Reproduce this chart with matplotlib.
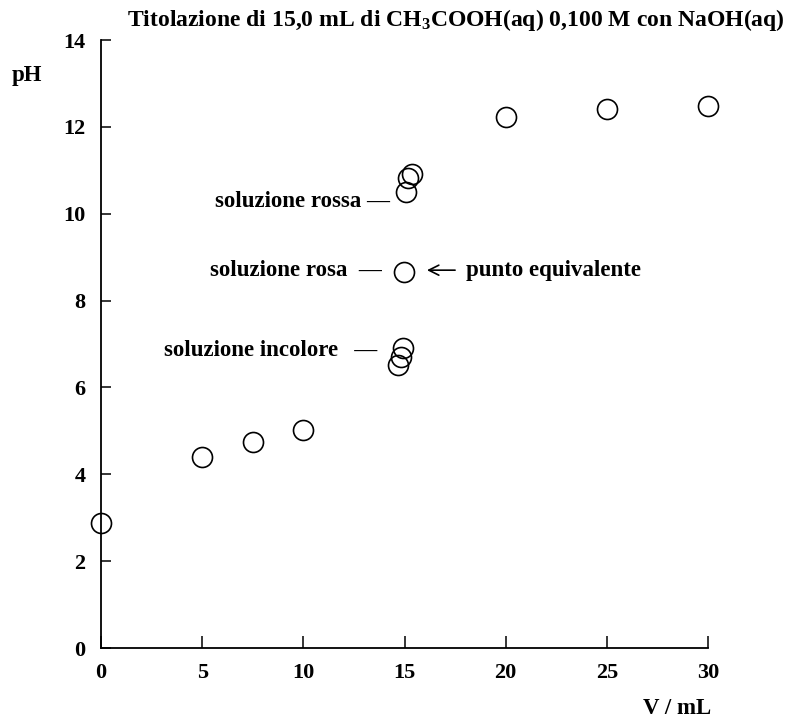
import matplotlib
matplotlib.use("Agg")
import matplotlib.pyplot as plt

# dati della titolazione
volume = [0, 5, 7.5, 10, 14.7, 14.81, 14.94, 14.98, 15.08, 15.15, 15.36, 20, 25, 30]
ph = [2.88, 4.4, 4.75, 5.02, 6.52, 6.71, 6.9, 8.66, 10.51, 10.82, 10.91, 12.23, 12.41, 12.48]

x_ticks = [0, 5, 10, 15, 20, 25, 30]
y_ticks = [0, 2, 4, 6, 8, 10, 12, 14]

plt.rcParams['font.family'] = ['Liberation Serif', 'DejaVu Serif']
plt.rcParams['font.weight'] = 'bold'
plt.rcParams['mathtext.fontset'] = 'custom'
plt.rcParams['mathtext.rm'] = 'Liberation Serif:bold'
plt.rcParams['mathtext.it'] = 'Liberation Serif:bold'
plt.rcParams['mathtext.bf'] = 'Liberation Serif:bold'

fs = 16.5

fig = plt.figure(figsize=(7.92, 7.2), dpi=100)
ax = fig.add_axes([101 / 792, 1 - 648 / 720, 607 / 792, 608 / 720])

ax.plot(volume, ph, 'o', markersize=14.4, markerfacecolor='none',
        markeredgecolor='black', markeredgewidth=1.2, clip_on=False, zorder=3)

ax.set_xlim(0, 30)
ax.set_ylim(0, 14)
ax.set_xticks(x_ticks)
ax.set_yticks(y_ticks)
ax.spines['top'].set_visible(False)
ax.spines['right'].set_visible(False)
ax.spines['left'].set_linewidth(1.3)
ax.spines['bottom'].set_linewidth(1.3)
ax.tick_params(axis='x', direction='in', length=9, width=1.1, pad=11, labelsize=16)
ax.tick_params(axis='y', direction='in', length=7, width=1.1, pad=11, labelsize=16)
for lab in ax.get_xticklabels() + ax.get_yticklabels():
    lab.set_fontweight('bold')

# etichette degli assi
fig.text(27 / 792, 1 - 75 / 720, 'pH', fontsize=fs, fontweight='bold',
         ha='center', va='center')
fig.text(677 / 792, 1 - 708 / 720, 'V / mL', fontsize=fs, fontweight='bold',
         ha='center', va='center')

# titolo
fig.text(456 / 792, 1 - 20 / 720,
         r'Titolazione di 15,0 mL di CH$_{3}$COOH(aq) 0,100 M con NaOH(aq)',
         fontsize=17, fontweight='bold', ha='center', va='center')

# annotazioni
ax.text(14.29, 10.27, 'soluzione rossa \u2014', fontsize=fs, fontweight='bold',
        ha='right', va='center')
ax.text(13.89, 8.70, 'soluzione rosa  \u2014', fontsize=fs, fontweight='bold',
        ha='right', va='center')
ax.text(13.64, 6.86, 'soluzione incolore  \u2009\u2014', fontsize=fs, fontweight='bold',
        ha='right', va='center')
ax.annotate('', xy=(16.11, 8.70), xytext=(17.5, 8.70),
            arrowprops=dict(arrowstyle='->', color='black', lw=1.2,
                            mutation_scale=18, shrinkA=0, shrinkB=0))
ax.text(18.04, 8.70, 'punto equivalente', fontsize=fs, fontweight='bold',
        ha='left', va='center')

fig.savefig('out.png', dpi=100)
